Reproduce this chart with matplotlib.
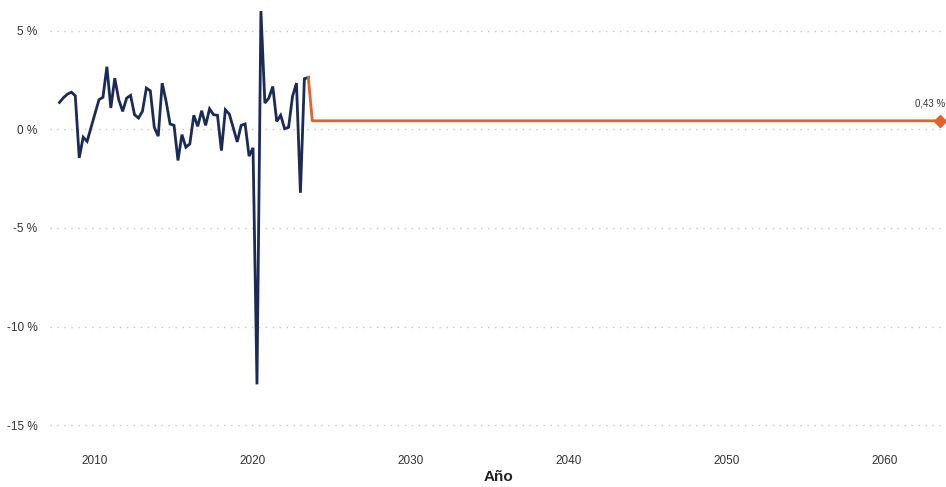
import matplotlib
matplotlib.use("Agg")
import matplotlib.pyplot as plt
from matplotlib.ticker import FuncFormatter

plt.rcParams['font.family'] = ['Liberation Sans', 'DejaVu Sans']

# Quarterly growth rate (%) - observed
hist_years = [2007.75 + 0.25 * i for i in range(64)]
hist_values = [
    1.36, 1.60, 1.78, 1.88, 1.70, -1.45, -0.40, -0.61,
    0.10, 0.80, 1.50, 1.62, 3.17, 1.08, 2.59, 1.50,
    0.91, 1.58, 1.72, 0.74, 0.57, 0.91, 2.09, 1.95,
    0.10, -0.35, 2.34, 1.41, 0.27, 0.20, -1.58, -0.27,
    -0.91, -0.74, 0.71, 0.15, 0.94, 0.20, 1.04, 0.74,
    0.71, -1.08, 0.99, 0.77, 0.07, -0.64, 0.20, 0.27,
    -1.36, -0.94, -12.93, 5.99, 1.33, 1.58, 2.17, 0.40,
    0.71, 0.03, 0.10, 1.67, 2.34, -3.22, 2.56, 2.63,
]

# Projection
proj_years = [2023.5, 2023.75, 2063.5]
proj_values = [2.63, 0.43, 0.43]

y_ticks = [5, 0, -5, -10, -15]
x_ticks = [2010, 2020, 2030, 2040, 2050, 2060]

navy = "#1b2a56"
orange = "#e0622c"

fig = plt.figure(figsize=(9.46, 4.87), dpi=100)
ax = fig.add_axes([50 / 946, 1 - 441 / 487, 896 / 946, 436 / 487])

ax.plot(hist_years, hist_values, color=navy, lw=2.0, solid_joinstyle="miter", zorder=3)
ax.plot(proj_years, proj_values, color=orange, lw=2.0, zorder=3)
ax.plot(proj_years[-1], proj_values[-1], marker="D", color=orange, ms=6, zorder=4)
ax.annotate(f"{proj_values[-1]:.2f} %".replace(".", ","),
            xy=(proj_years[-1], proj_values[-1]), xytext=(-7, 9),
            textcoords="offset points", ha="center", va="bottom",
            fontsize=7, color="#333333")

ax.set_xlim(2007.15, 2063.86)
ax.set_ylim(-15.8, 6.3)
ax.set_yticks(y_ticks)
ax.set_xticks(x_ticks)
ax.yaxis.set_major_formatter(FuncFormatter(lambda v, p: f"{v:.0f} %"))
ax.grid(axis="y", color="#c8c8c8", linestyle=(0, (1, 4)), lw=1.0)
ax.grid(axis="x", visible=False)
for s in ax.spines.values():
    s.set_visible(False)
ax.tick_params(axis="both", length=0, labelsize=8.5, colors="#333333")
ax.tick_params(axis="y", pad=9)
ax.tick_params(axis="x", pad=10)
ax.set_xlabel("Año", fontsize=11, fontweight="bold", color="#222222", labelpad=2)

fig.savefig("out.png", dpi=100)
